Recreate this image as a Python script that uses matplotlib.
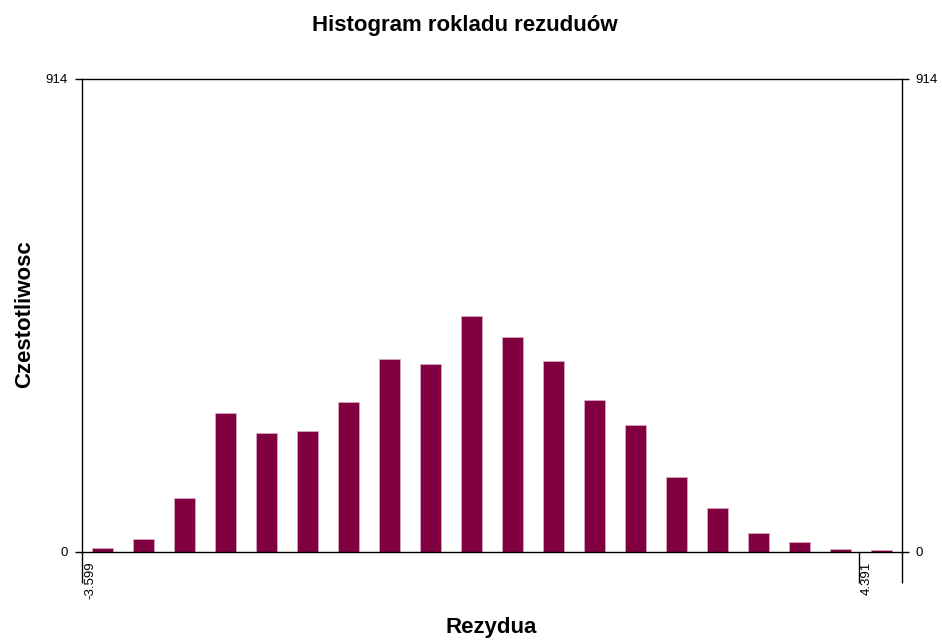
import matplotlib.pyplot as plt
import matplotlib.transforms as mtransforms
import numpy as np

# Dane histogramu
x_min = -3.599
x_max_label = 4.391
bin_width = 0.4216
counts = [7, 26, 104, 269, 229, 234, 290, 372, 363, 456,
          415, 370, 294, 245, 144, 85, 37, 19, 5, 3]
y_max = 914

plt.rcParams['font.family'] = ['Liberation Sans', 'DejaVu Sans']

fig = plt.figure(figsize=(9.42, 6.40), dpi=100)
ax = fig.add_axes([0.0870, 0.1375, 0.8705, 0.7391])

n = len(counts)
edges = x_min + bin_width * np.arange(n)
centers = edges + bin_width / 2
ax.bar(centers, counts, width=bin_width * 0.53, color='#800040',
       edgecolor='#d8a8c0', linewidth=0.6)

x_right = x_min + bin_width * n
ax.set_xlim(x_min, x_right)
ax.set_ylim(0, y_max)

# Osie
for s in ax.spines.values():
    s.set_linewidth(1.0)
    s.set_color('black')

ax.set_xticks([x_min, x_max_label, x_right])
ax.set_xticklabels(['-3.599', '4.391', ''], rotation=90, fontsize=9.5,
                   ha='left', va='top')
ax.tick_params(axis='x', direction='out', length=22, width=1.0, pad=-15)
offset = mtransforms.ScaledTranslation(1.5 / 72, 0, fig.dpi_scale_trans)
for lbl in ax.get_xticklabels():
    lbl.set_transform(lbl.get_transform() + offset)

ax.set_yticks([0, y_max])
ax.set_yticklabels(['0', '914'], fontsize=9.5)
ax.tick_params(axis='y', direction='out', length=5, width=1.0, pad=5,
               right=True, labelright=True)

# Podpisy
fig.text(465 / 942, 1 - 25 / 640, 'Histogram rokladu rezuduów',
         fontsize=16, fontweight='bold', ha='center', va='center')
fig.text(491 / 942, 1 - 627 / 640, 'Rezydua',
         fontsize=16, fontweight='bold', ha='center', va='center')
fig.text(25 / 942, 1 - 314 / 640, 'Czestotliwosc', rotation=90,
         fontsize=16, fontweight='bold', ha='center', va='center')

fig.savefig('out.png', dpi=100)
